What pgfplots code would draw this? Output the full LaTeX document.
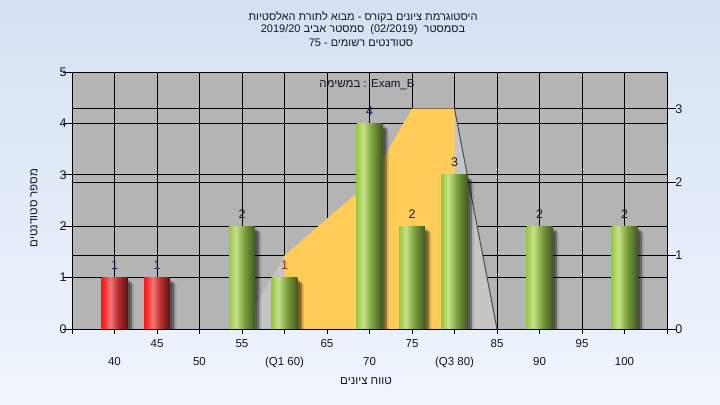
\documentclass[border=0pt]{standalone}
\usepackage{fontspec}
\setmainfont{Liberation Sans}
\newfontfamily\heb[Script=Hebrew]{Liberation Sans}
\TeXXeTstate=1
\usepackage{pgfplots}
\pgfplotsset{compat=1.18}

\definecolor{bgtop}{RGB}{213,225,242}
\definecolor{bgbot}{RGB}{240,245,252}
\definecolor{plotbg}{RGB}{180,180,180}
\definecolor{areagray}{RGB}{197,197,197}
\definecolor{areayel}{RGB}{255,204,88}
\definecolor{gA}{RGB}{150,200,66}
\definecolor{gB}{RGB}{198,225,136}
\definecolor{gC}{RGB}{125,162,62}
\definecolor{gD}{RGB}{66,88,34}
\definecolor{rA}{RGB}{252,24,24}
\definecolor{rA2}{RGB}{250,52,52}
\definecolor{rB}{RGB}{238,120,120}
\definecolor{rC}{RGB}{188,48,48}
\definecolor{rD}{RGB}{98,16,16}
\definecolor{lblc}{RGB}{25,30,70}
\definecolor{lblr}{RGB}{150,40,25}
\definecolor{titc}{RGB}{20,20,40}

% TikZ maps the central 25bp..75bp band of a shading onto the path
\pgfdeclarehorizontalshading{greenbar}{100bp}{color(0bp)=(gA); color(25bp)=(gA); color(38bp)=(gB); color(54bp)=(gC); color(75bp)=(gD); color(100bp)=(gD)}
\pgfdeclarehorizontalshading{redbar}{100bp}{color(0bp)=(rA); color(25bp)=(rA); color(32bp)=(rA2); color(42bp)=(rB); color(56bp)=(rC); color(75bp)=(rD); color(100bp)=(rD)}

\pgfplotsset{
  basebar/.style={ybar, bar width=3.05, bar shift=0pt, draw=none, shade, nodes near coords},
  gbar/.style={basebar, shading=greenbar, every node near coord/.append style={text=lblc}},
  rbar/.style={basebar, shading=redbar, every node near coord/.append style={text=lblc}},
}

\begin{document}
\begin{tikzpicture}
\shade[top color=bgtop, bottom color=bgbot] (0,0) rectangle (720bp,405bp);

% right axis: background, grid, area
\begin{axis}[
  at={(72bp,76bp)}, anchor=south west, scale only axis,
  width=595bp, height=257bp,
  xmin=35, xmax=105, ymin=0, ymax=3.5,
  axis background/.style={fill=plotbg},
  axis line style={black, line width=0.8bp},
  /pgf/number format/assume math mode=true,
  tick style={black, line width=0.8bp},
  tick align=outside,
  xtick pos=left, ytick pos=right, yticklabel pos=right,
  xtick={45,55,65,75,85,95},
  extra x ticks={35,40,50,60,70,80,90,100,105},
  extra x tick labels={,40,50,(Q1 60),70,(Q3 80),90,100,},
  extra x tick style={grid=major, xticklabel style={yshift=-18bp}},
  xtick style={/pgfplots/major tick length=5bp},
  xticklabel style={font=\fontsize{11.5bp}{13bp}\selectfont, text=titc, anchor=north, inner sep=0pt, text height=8.5bp, text depth=2bp, yshift=-6bp},
  ytick={0,1,2,3},
  extra y ticks={0.7,1.4,2.1,2.8},
  extra y tick labels={},
  extra y tick style={grid=major, ytick style={/pgfplots/major tick length=0pt}},
  ytick style={/pgfplots/major tick length=9bp},
  yticklabel style={font=\fontsize{12.5bp}{14bp}\selectfont, text=titc, inner sep=1bp, xshift=3bp},
  grid=major,
  major grid style={black, line width=0.8bp},
]
\addplot[fill=areagray, draw=none] coordinates {(55,0) (60,1) (70,2) (75,3) (80,3) (85,0)} \closedcycle;
\addplot[fill=areayel, draw=none] coordinates {(60,0) (60,1) (70,2) (75,3) (80,3) (80,0)} \closedcycle;
\addplot[draw=black!70, line width=1bp] coordinates {(80,3) (85,0)};
\end{axis}

% left axis: bars
\begin{axis}[
  at={(72bp,76bp)}, anchor=south west, scale only axis,
  width=595bp, height=257bp,
  xmin=35, xmax=105, ymin=0, ymax=5,
  axis x line*=bottom, axis y line*=left,
  axis line style={-, black, line width=0.8bp},
  xtick=\empty,
  ytick={0,1,2,3,4,5},
  tick align=outside,
  tick style={black, line width=0.8bp},
  ytick style={/pgfplots/major tick length=9bp},
  /pgf/number format/assume math mode=true,
  yticklabel style={font=\fontsize{12.5bp}{14bp}\selectfont, text=titc, inner sep=1bp},
  nodes near coords style={font=\fontsize{12.5bp}{14bp}\selectfont, anchor=south, inner sep=0pt, yshift=8bp},
]
% shadows
\addplot[ybar, bar width=3.05, bar shift=0pt, draw=none, fill=black, fill opacity=0.2, xshift=2.5bp, yshift=-2.5bp, forget plot]
  coordinates {(40,1) (45,1) (55,2) (60,1) (70,4) (75,2) (80,3) (90,2) (100,2)};
\addplot[ybar, bar width=3.05, bar shift=0pt, draw=none, fill=black, fill opacity=0.35, xshift=4.5bp, yshift=-4.5bp, forget plot]
  coordinates {(40,1) (45,1) (55,2) (60,1) (70,4) (75,2) (80,3) (90,2) (100,2)};
\addplot[ybar, bar width=3.05, bar shift=0pt, draw=none, fill=black, fill opacity=0.12, xshift=6.5bp, yshift=-6.5bp, forget plot]
  coordinates {(40,1) (45,1) (55,2) (60,1) (70,4) (75,2) (80,3) (90,2) (100,2)};
% red bars
\addplot[rbar] coordinates {(40,1)};
\addplot[rbar] coordinates {(45,1)};
% green bars
\addplot[gbar] coordinates {(55,2)};
\addplot[gbar, every node near coord/.append style={text=lblr}] coordinates {(60,1)};
\addplot[gbar] coordinates {(70,4)};
\addplot[gbar] coordinates {(75,2)};
\addplot[gbar] coordinates {(80,3)};
\addplot[gbar] coordinates {(90,2)};
\addplot[gbar] coordinates {(100,2)};
\end{axis}

% titles and labels
\begin{scope}[every node/.style={text=titc, inner sep=0pt}]
\node[font=\heb\fontsize{11bp}{13bp}\selectfont] at (363bp,388bp) {\beginR היסטוגרמת ציונים בקורס - מבוא לתורת האלסטיות\endR};
\node[font=\heb\fontsize{11bp}{13bp}\selectfont] at (363bp,375bp) {2019/20 \beginR סמסטר אביב\endR\ \ (02/2019)\ \ בסמסטר};
\node[font=\heb\fontsize{11bp}{13bp}\selectfont] at (361bp,362bp) {75 - \beginR סטודנטים רשומים\endR};
\node[font=\heb\fontsize{11.5bp}{13bp}\selectfont] at (367bp,320bp) {במשימה : Exam\_B};
\node[font=\heb\fontsize{11.5bp}{13bp}\selectfont] at (366bp,24bp) {\beginR טווח ציונים\endR};
\node[font=\heb\fontsize{11.5bp}{13bp}\selectfont, rotate=90] at (34bp,197bp) {\beginR מספר סטודנטים\endR};
\end{scope}
\end{tikzpicture}
\end{document}
